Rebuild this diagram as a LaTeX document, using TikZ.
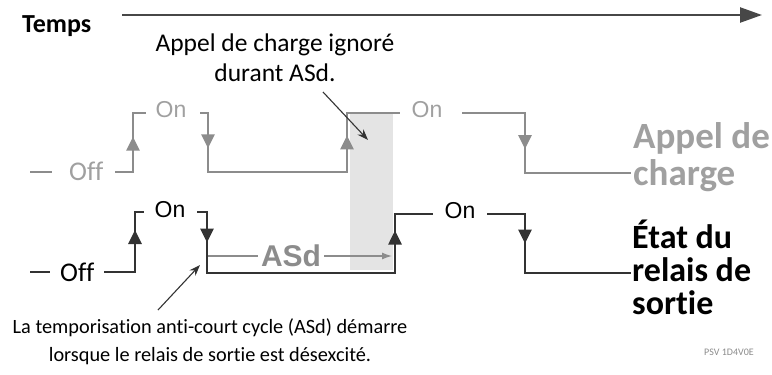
\documentclass[tikz,border=0pt]{standalone}
\usepackage{fontspec}
\setmainfont{Carlito}[Ligatures=NoCommon]
\newfontfamily\arialfont{Liberation Sans}
\usetikzlibrary{arrows.meta,decorations.markings}

\definecolor{wavegrey}{HTML}{8C8C8C}
\definecolor{textgrey}{HTML}{A0A0A0}
\definecolor{wavedark}{HTML}{333333}
\definecolor{shadegrey}{HTML}{E4E4E4}

\begin{document}
\begin{tikzpicture}[x=1pt,y=-1pt,
        wave/.style={line width=2.6pt},
        midtip/.style={postaction={decorate},decoration={markings,
            mark=at position #1 with {\arrow{Triangle[width=13pt,length=14pt]}}}},
        statelabel/.style={anchor=base,inner sep=0pt,font=\arialfont\fontsize{23}{23}\selectfont},
        offlabel/.style={anchor=base west,inner sep=0pt,font=\fontsize{27}{27}\selectfont},
        pointer/.style={line width=1.1pt,draw=wavedark,-{Stealth[length=11pt,width=8pt]}},
        remark/.style={align=center,inner sep=0pt}]

    \useasboundingbox[fill=white] (0,0) rectangle (772,375);

    % Time axis
    \node[anchor=base west,inner sep=0pt,font=\bfseries\fontsize{26}{26}\selectfont] (temps) at (22,32) {Temps};
    \coordinate (t0) at (122,15);
    \coordinate (t1) at (762,15);
    \draw[line width=2.4pt,draw=wavedark!90,-{Triangle[width=15pt,length=22pt]}] (t0) -- (t1);

    % Lockout window (ASd)
    \fill[shadegrey] (350,114) rectangle (393,270);

    % Load demand (grey)
    \coordinate (ga) at (30,172);
    \coordinate (gb) at (52,172);
    \node[offlabel,text=textgrey] (goff) at (69,180) {Off};
    \coordinate (g1) at (115,172);
    \coordinate (g2) at (133,172);
    \coordinate (g3) at (133,113);
    \coordinate (g4) at (146,113);
    \node[statelabel,text=textgrey] (gon1) at (171,117) {On};
    \coordinate (g5) at (200,113);
    \coordinate (g6) at (208,113);
    \coordinate (g7) at (208,172);
    \coordinate (g8) at (347,172);
    \coordinate (g9) at (347,113);
    \coordinate (g10) at (400,113);
    \node[statelabel,text=textgrey] (gon2) at (427,117) {On};
    \coordinate (g11) at (462,113);
    \coordinate (g12) at (525,113);
    \coordinate (g13) at (525,173);
    \coordinate (g14) at (631,173);
    \node[anchor=north west,align=left,inner sep=0pt,text=textgrey,
        font=\bfseries\fontsize{37}{37}\selectfont] (demand) at (633,122) {Appel de\\charge};

    \draw[wave,wavegrey] (ga) -- (gb);
    \draw[wave,wavegrey] (g1) -- (g2) -- (g3) -- (g4);
    \draw[wave,wavegrey] (g5) -- (g6) -- (g7) -- (g8) -- (g9) -- (g10);
    \draw[wave,wavegrey] (g11) -- (g12) -- (g13) -- (g14);
    \draw[wave,wavegrey,midtip=0.6] (g2) -- (g3);
    \draw[wave,wavegrey,midtip=0.6] (g6) -- (g7);
    \draw[wave,wavegrey,midtip=0.62] (g8) -- (g9);
    \draw[wave,wavegrey,midtip=0.6] (g12) -- (g13);

    % Output relay state (black)
    \coordinate (ba) at (30,272);
    \coordinate (bb) at (50,272);
    \node[offlabel] (boff) at (60,281) {Off};
    \coordinate (b1) at (104,272);
    \coordinate (b2) at (135,272);
    \coordinate (b3) at (135,212);
    \coordinate (b4) at (144,212);
    \node[statelabel] (bon1) at (170,217) {On};
    \coordinate (b5) at (197,212);
    \coordinate (b6) at (207,212);
    \coordinate (b7) at (207,273);
    \coordinate (b8) at (395,273);
    \coordinate (b9) at (395,214);
    \coordinate (b10) at (433,214);
    \node[statelabel] (bon2) at (460,218) {On};
    \coordinate (b11) at (487,214);
    \coordinate (b12) at (525,214);
    \coordinate (b13) at (525,273);
    \coordinate (b14) at (631,273);
    \node[anchor=north west,align=left,inner sep=0pt,
        font=\bfseries\fontsize{34}{33}\selectfont] (relay) at (632,220) {État du\\relais de\\sortie};

    \draw[wave,wavedark] (ba) -- (bb);
    \draw[wave,wavedark] (b1) -- (b2) -- (b3) -- (b4);
    \draw[wave,wavedark] (b5) -- (b6) -- (b7) -- (b8) -- (b9) -- (b10);
    \draw[wave,wavedark] (b11) -- (b12) -- (b13) -- (b14);
    \draw[wave,wavedark,midtip=0.7] (b2) -- (b3);
    \draw[wave,wavedark,midtip=0.5] (b6) -- (b7);
    \draw[wave,wavedark,midtip=0.72] (b8) -- (b9);
    \draw[wave,wavedark,midtip=0.5] (b12) -- (b13);

    % ASd duration
    \coordinate (asa) at (208,256);
    \node[inner sep=3pt,text=wavegrey,font=\arialfont\bfseries\fontsize{30}{30}\selectfont] (asd) at (291,256) {ASd};
    \coordinate (asb) at (392,256);
    \draw[line width=1.3pt,wavegrey] (asa) -- (asd);
    \draw[line width=1.3pt,wavegrey,-{Latex[length=10pt,width=7pt]}] (asd) -- (asb);

    % Remarks
    \node[remark,anchor=north,font=\fontsize{25.5}{30}\selectfont] (ignored) at (275,34) {Appel de charge ignoré\\durant ASd.};
    \coordinate (i1) at (323,92);
    \coordinate (i2) at (368,140);
    \draw[pointer] (i1) -- (i2);

    \node[remark,anchor=north,font=\fontsize{20.3}{28}\selectfont] (start) at (210,318)
        {La temporisation anti-court cycle (ASd) démarre\\lorsque le relais de sortie est désexcité.};
    \coordinate (s1) at (158,310);
    \coordinate (s2) at (200,265);
    \draw[pointer] (s1) -- (s2);

    \node[inner sep=0pt,text=wavegrey,font=\fontsize{10}{10}\selectfont] (ref) at (729,352) {PSV 1D4V0E};

\end{tikzpicture}
\end{document}
